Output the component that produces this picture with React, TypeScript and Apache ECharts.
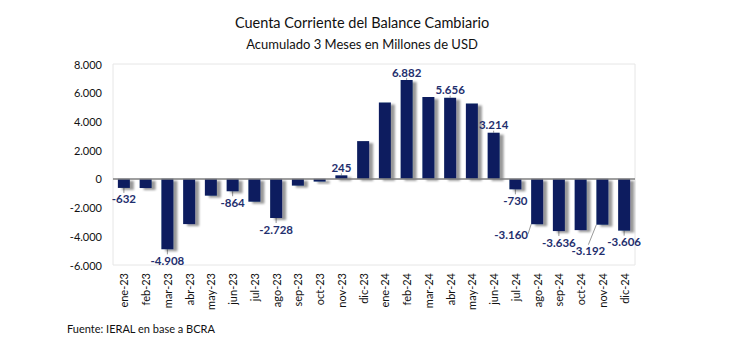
import React, { useEffect, useRef } from "react";
import * as echarts from "echarts";

const categories = [
  "ene-23", "feb-23", "mar-23", "abr-23", "may-23", "jun-23", "jul-23", "ago-23",
  "sep-23", "oct-23", "nov-23", "dic-23", "ene-24", "feb-24", "mar-24", "abr-24",
  "may-24", "jun-24", "jul-24", "ago-24", "sep-24", "oct-24", "nov-24", "dic-24",
];
const values = [
  -632, -640, -4908, -3150, -1170, -864, -1590, -2728, -470, -190, 245, 2630,
  5320, 6882, 5700, 5656, 5250, 3214, -730, -3160, -3636, -3570, -3192, -3606,
];
const labeledIndices = [0, 2, 5, 7, 10, 13, 15, 17, 18, 19, 20, 22, 23];
const yTicks = { min: -6000, max: 8000, interval: 2000 };
const titleText = "Cuenta Corriente del Balance Cambiario";
const subtitleText = "Acumulado 3 Meses en Millones de USD";
const footerText = "Fuente: IERAL en base a BCRA";

const FONT = "Lato, 'Open Sans', sans-serif";
const NAVY = "#0a1f5e";
const LABEL_NAVY = "#1f2f6e";

const fmt = (v: number) => {
  const s = Math.abs(v).toString().replace(/\B(?=(\d{3})+(?!\d))/g, ".");
  return (v < 0 ? "-" : "") + s;
};

export default function App() {
  const ref = useRef<HTMLDivElement>(null);
  useEffect(() => {
    document.body.style.margin = "0";
    if (!ref.current) return;
    const chart = echarts.init(ref.current, null, { renderer: "svg" });
    const data = values.map((v, i) => {
      const show = labeledIndices.includes(i);
      return {
        value: v,
        label: {
          show,
          position: v >= 0 ? "top" : "bottom",
          distance: v >= 0 ? 2 : 5,
        },
      };
    });
    chart.setOption({
      animation: false,
      backgroundColor: "#ffffff",
      grid: {
        left: 113,
        right: 95,
        top: 64,
        bottom: 88,
        show: true,
        borderColor: "#e6e6e6",
        borderWidth: 1,
      },
      graphic: [
        {
          type: "text",
          x: 362,
          y: 22,
          style: {
            text: titleText,
            fontFamily: FONT,
            fontSize: 14.5,
            fill: "#111",
            textAlign: "center",
            textVerticalAlign: "middle",
          },
        },
        {
          type: "text",
          x: 362,
          y: 44,
          style: {
            text: subtitleText,
            fontFamily: FONT,
            fontSize: 13,
            fill: "#111",
            textAlign: "center",
            textVerticalAlign: "middle",
          },
        },
        {
          type: "text",
          x: 67,
          y: 328,
          style: {
            text: footerText,
            fontFamily: FONT,
            fontSize: 11,
            fill: "#111",
            textAlign: "left",
            textVerticalAlign: "middle",
          },
        },
      ],
      xAxis: {
        type: "category",
        data: categories,
        axisLine: { show: false, onZero: false },
        axisTick: { show: false },
        axisLabel: {
          rotate: 90,
          margin: 8,
          fontFamily: FONT,
          fontSize: 11,
          color: "#111",
        },
        splitLine: { show: false },
      },
      yAxis: {
        type: "value",
        min: yTicks.min,
        max: yTicks.max,
        interval: yTicks.interval,
        axisLine: { show: false },
        axisTick: { show: false },
        splitLine: { show: false },
        axisLabel: {
          margin: 11,
          fontFamily: FONT,
          fontSize: 11,
          color: "#111",
          formatter: (v: number) => fmt(v),
        },
      },
      series: [
        {
          type: "bar",
          data,
          barWidth: 12,
          itemStyle: {
            color: NAVY,
            shadowColor: "rgba(0,0,0,0.4)",
            shadowOffsetX: 4,
            shadowOffsetY: 2,
            shadowBlur: 2,
          },
          label: {
            fontFamily: FONT,
            fontSize: 11.5,
            fontWeight: "bold",
            color: LABEL_NAVY,
            formatter: (p: any) => fmt(p.value),
          },
          labelLine: {
            show: true,
            lineStyle: { color: "#999", width: 1 },
          },
          labelLayout: (p: any) => {
            if (p.dataIndex === 19) return { dx: -26, dy: -1 };
            if (p.dataIndex === 22) return { dx: -14, dy: 15 };
            return {};
          },
          markLine: {
            silent: true,
            symbol: "none",
            label: { show: false },
            lineStyle: { color: "#7f7f7f", width: 1.5, type: "solid" },
            data: [{ yAxis: 0 }],
          },
        },
      ],
    });
    return () => chart.dispose();
  }, []);
  return <div ref={ref} style={{ width: 730, height: 353 }} />;
}
